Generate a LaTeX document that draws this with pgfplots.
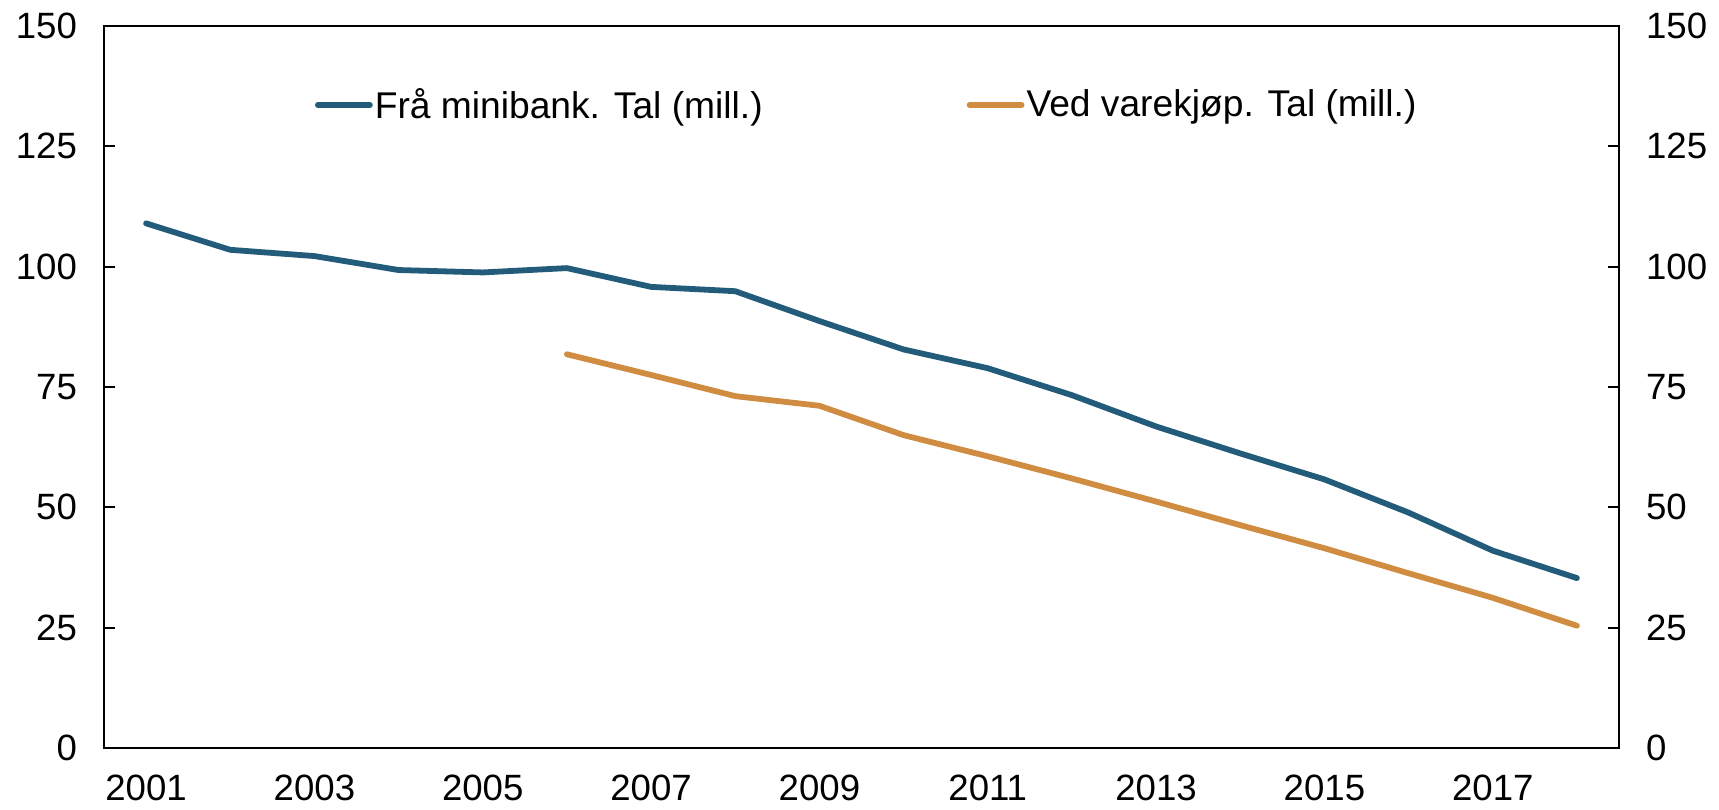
\documentclass[border=0pt]{standalone}
\usepackage{fontspec}
\setmainfont{Liberation Sans}
\usepackage{pgfplots}
\pgfplotsset{compat=1.18}
\definecolor{cblue}{RGB}{35,91,122}
\definecolor{corange}{RGB}{208,140,64}
\begin{document}
\begin{tikzpicture}
\pgfplotsset{
  myaxis/.style={
    scale only axis, width=757.5pt, height=361pt,
    xmin=-0.5, xmax=17.5, ymin=0, ymax=150,
    ytick={0,25,...,150},
    axis line style={line width=1pt},
    every tick/.style={black, line width=1pt},
    major tick length=5.5pt,
    tick align=inside,
    /pgf/number format/assume math mode=true,
    tick label style={font=\fontsize{18.3}{22}\selectfont},
  }
}
\begin{axis}[myaxis,
  xtick={0,2,...,16},
  xticklabels={2001,2003,2005,2007,2009,2011,2013,2015,2017},
  minor xtick={0.5,1.5,...,16.5},
  minor tick length=5.5pt,
  xtick style={draw=none},
  minor x tick style={black, line width=1pt},
  xtick pos=bottom,
  ytick pos=left,
  xticklabel style={yshift=-10pt},
  yticklabel style={xshift=-10pt},
  legend style={draw=none, fill=none, at={(0.139,0.8906)}, anchor=west,
    inner sep=0pt, font=\fontsize{18.6}{22}\selectfont,
    /tikz/every even column/.append style={column sep=101pt},
    nodes={inner xsep=1pt, inner ysep=2pt}},
  legend columns=2,
  legend cell align=left,
  legend image code/.code={\draw[#1, line width=2.9pt, line cap=round] (0pt,0pt) -- (26pt,0pt);},
]
\addplot[cblue, line width=2.9pt, line cap=round, line join=round] coordinates {
(0,109.0) (1,103.5) (2,102.2) (3,99.3) (4,98.8) (5,99.7) (6,95.8) (7,94.9)
(8,88.7) (9,82.8) (10,78.9) (11,73.3) (12,66.8) (13,61.2) (14,55.8) (15,48.9)
(16,41.0) (17,35.3)};
\addlegendentry{Frå minibank. Tal (mill.)}
\addplot[corange, line width=2.9pt, line cap=round, line join=round] coordinates {
(5,81.8) (6,77.5) (7,73.1) (8,71.1) (9,65.0) (10,60.6) (11,56.0) (12,51.2)
(13,46.3) (14,41.5) (15,36.3) (16,31.2) (17,25.4)};
\addlegendentry{Ved varekjøp. Tal (mill.)}
\end{axis}
\begin{axis}[myaxis,
  axis x line=none,
  axis y line*=right,
  ytick pos=right,
  yticklabel pos=right,
  yticklabel style={xshift=10pt},
]
\end{axis}
\pgfresetboundingbox
\path[use as bounding box] ([shift={(-52pt,-30.5pt)}]current axis.south west) rectangle ([shift={(50pt,13pt)}]current axis.north east);
\end{tikzpicture}
\end{document}
